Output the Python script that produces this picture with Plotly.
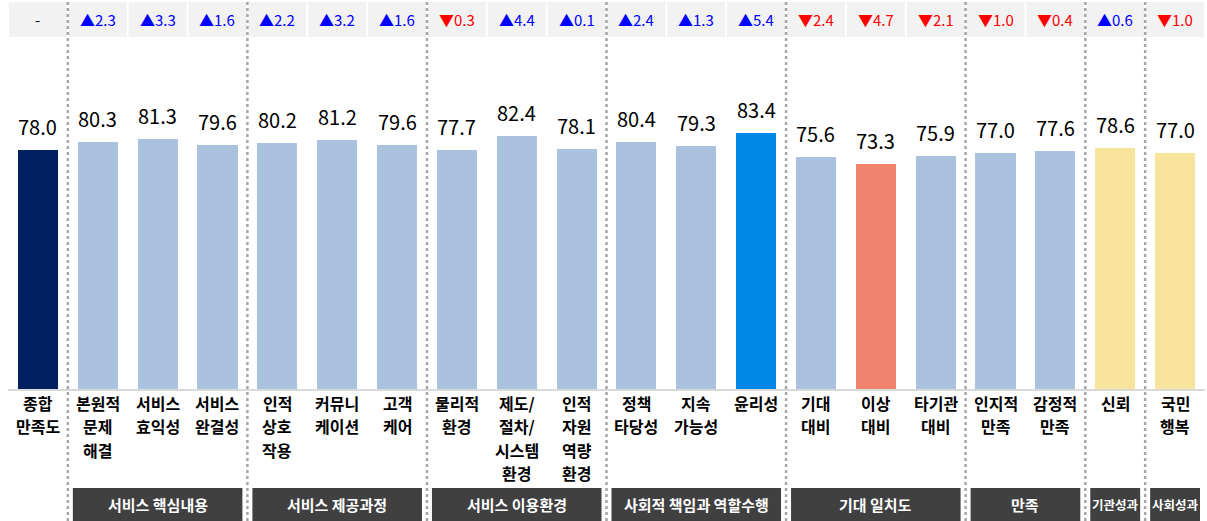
import plotly.graph_objects as go

categories = ["종합<br>만족도", "본원적<br>문제<br>해결", "서비스<br>효익성", "서비스<br>완결성",
              "인적<br>상호<br>작용", "커뮤니<br>케이션", "고객<br>케어",
              "물리적<br>환경", "제도/<br>절차/<br>시스템<br>환경", "인적<br>자원<br>역량<br>환경",
              "정책<br>타당성", "지속<br>가능성", "윤리성",
              "기대<br>대비", "이상<br>대비", "타기관<br>대비",
              "인지적<br>만족", "감정적<br>만족", "신뢰", "국민<br>행복"]
values = [78.0, 80.3, 81.3, 79.6, 80.2, 81.2, 79.6, 77.7, 82.4, 78.1,
          80.4, 79.3, 83.4, 75.6, 73.3, 75.9, 77.0, 77.6, 78.6, 77.0]
changes = [None, 2.3, 3.3, 1.6, 2.2, 3.2, 1.6, -0.3, 4.4, 0.1,
           2.4, 1.3, 5.4, -2.4, -4.7, -2.1, -1.0, -0.4, 0.6, -1.0]
group_names = ["서비스 핵심내용", "서비스 제공과정", "서비스 이용환경", "사회적 책임과 역할수행",
               "기대 일치도", "만족", "기관성과", "사회성과"]
group_first = [1, 4, 7, 10, 13, 16, 18, 19]
group_last = [3, 6, 9, 12, 15, 17, 18, 19]

NAVY = "#00205f"
LIGHT = "#abc2df"
BRIGHT = "#0088e8"
SALMON = "#f0836d"
YELLOW = "#f8e59b"
colors = [NAVY] + [LIGHT] * 11 + [BRIGHT] + [LIGHT, SALMON, LIGHT] + [LIGHT, LIGHT] + [YELLOW, YELLOW]

W, H = 1207, 521
ML, MR, MT, MB = 8, 2, 40, 132
PLOT_H = H - MT - MB
BASE = H - MB
PX_PER_UNIT = 3.07
YMAX = PLOT_H / PX_PER_UNIT
FONT = "Noto Sans CJK KR"
LABEL_SIZE = 16
LINE_GAP = 23.3

def py(p):
    return (BASE - p) / PLOT_H

n = len(values)
x = list(range(n))

fig = go.Figure()
fig.add_trace(go.Bar(
    x=x, y=values, width=0.67, marker=dict(color=colors, line=dict(width=0)),
    cliponaxis=False, hoverinfo="skip"))

shapes = []
annotations = []
# value labels
for i, v in enumerate(values):
    annotations.append(dict(x=i, y=v, xref="x", yref="y", text=f"{v:.1f}", showarrow=False,
                            font=dict(size=20, color="#000000", family=FONT),
                            xanchor="center", yanchor="bottom", yshift=7))
# category labels, one annotation per line
for i, lab in enumerate(categories):
    for k, line in enumerate(lab.split("<br>")):
        annotations.append(dict(x=i, y=py(403 + LINE_GAP * k), xref="x", yref="paper", text=f"<b>{line}</b>",
                                showarrow=False, font=dict(size=LABEL_SIZE, color="#000000", family=FONT),
                                xanchor="center", yanchor="middle"))
# top change cells
for i, c in enumerate(changes):
    shapes.append(dict(type="rect", xref="x", yref="paper", x0=i - 0.485, x1=i + 0.485,
                       y0=py(37), y1=py(2), fillcolor="#f2f2f2", line=dict(width=0), layer="below"))
    if c is None:
        txt, col = "-", "#000000"
    elif c >= 0:
        txt, col = "▲" + f"{abs(c):.1f}", "#0000ff"
    else:
        txt, col = "▼" + f"{abs(c):.1f}", "#ff0000"
    annotations.append(dict(x=i, y=py(20), xref="x", yref="paper", text=txt, showarrow=False,
                            font=dict(size=15, color=col, family=FONT), xanchor="center", yanchor="middle"))

# dotted separators
for f in group_first:
    shapes.append(dict(type="line", xref="x", yref="paper", x0=f - 0.5, x1=f - 0.5,
                       y0=py(H), y1=py(0), line=dict(color="#a6a6a6", width=2.5, dash="dot")))

# group boxes
inset = 5 / ((W - ML - MR) / n)
for name, f, l in zip(group_names, group_first, group_last):
    shapes.append(dict(type="rect", xref="x", yref="paper", x0=f - 0.5 + inset, x1=l + 0.5 - inset,
                       y0=py(H), y1=py(488), fillcolor="#404040", line=dict(width=0)))
    fs = 15 if l > f else 12.5
    annotations.append(dict(x=(f + l) / 2, y=py(504.5), xref="x", yref="paper", text=f"<b>{name}</b>",
                            showarrow=False, font=dict(size=fs, color="#ffffff", family=FONT),
                            xanchor="center", yanchor="middle"))

fig.update_layout(
    width=W, height=H, margin=dict(l=ML, r=MR, t=MT, b=MB),
    plot_bgcolor="#ffffff", paper_bgcolor="#ffffff", showlegend=False,
    shapes=shapes, annotations=annotations, bargap=0,
    xaxis=dict(range=[-0.5, n - 0.5], showticklabels=False,
               showline=True, linecolor="#d9d9d9", linewidth=2, showgrid=False, zeroline=False,
               ticks="", fixedrange=True),
    yaxis=dict(range=[0, YMAX], visible=False, showgrid=False, zeroline=False, fixedrange=True),
)

fig.write_html("out.html", config={"displayModeBar": False},
               post_script="document.body.style.margin='0';document.body.style.padding='0';")
